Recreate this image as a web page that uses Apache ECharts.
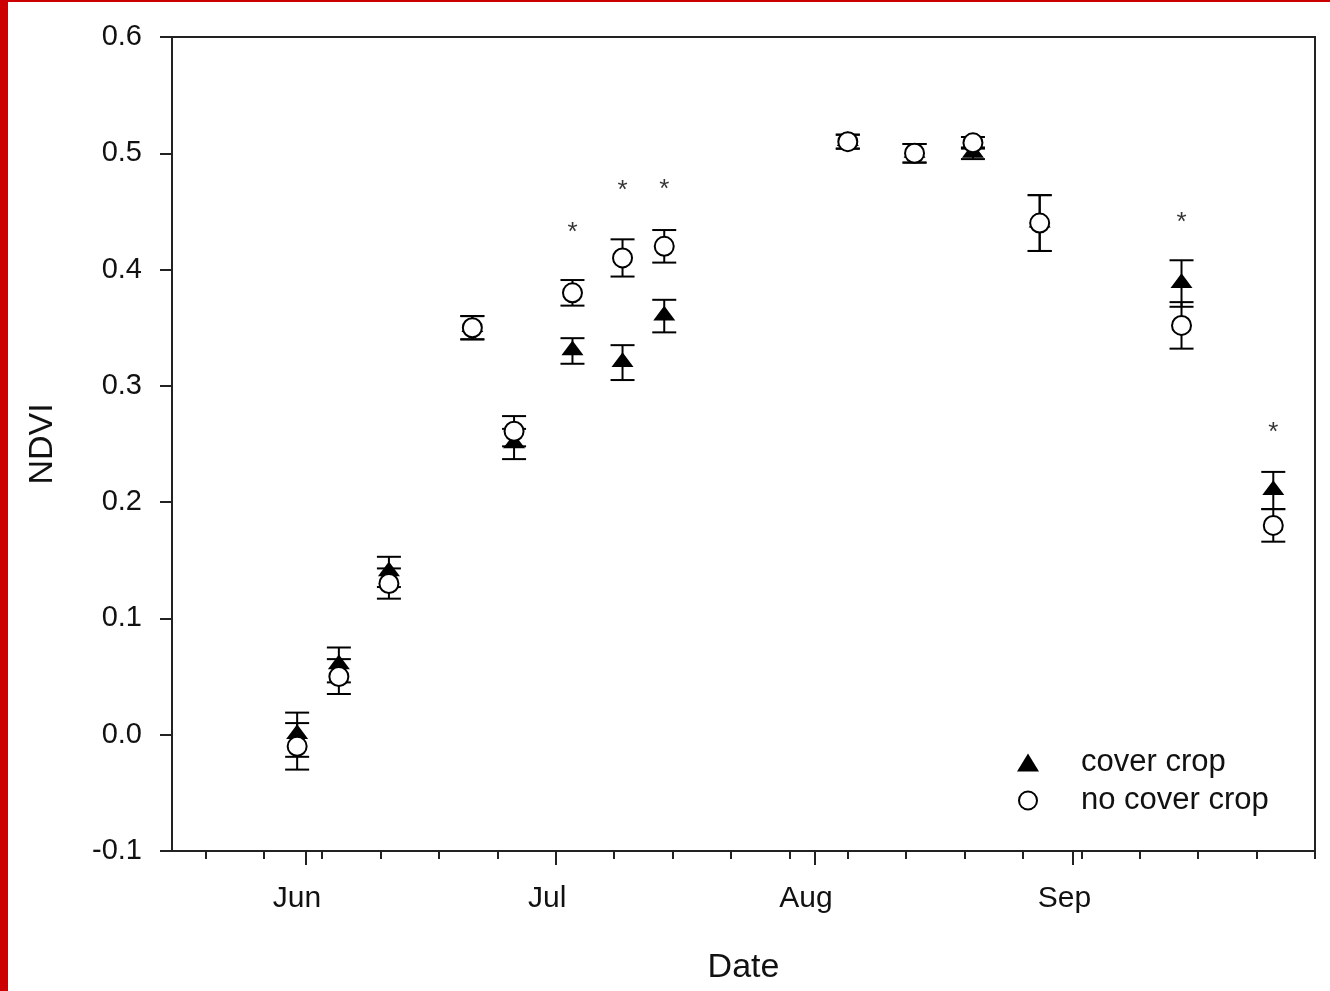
<!DOCTYPE html>
<html>
<head>
<meta charset="utf-8">
<script src="https://cdn.jsdelivr.net/npm/echarts@6/dist/echarts.min.js"></script>
<style>
html,body{margin:0;padding:0;background:#fff;}
#wrap{position:relative;width:1330px;height:991px;overflow:hidden;background:#fff;}
#chart{position:absolute;left:0;top:0;width:1330px;height:991px;}
.redL{position:absolute;left:0;top:0;width:8px;height:991px;background:#cc0000;}
.redT{position:absolute;left:0;top:0;width:1330px;height:2px;background:#cc0000;}
</style>
</head>
<body>
<div id="wrap"><div id="chart"></div><div class="redL"></div><div class="redT"></div></div>
<script>
// ---- data ----
const sampleDates   = ['05-31','06-05','06-11','06-21','06-26','07-03','07-09','07-14','08-05','08-13','08-20','08-28','09-14','09-25'];
const coverCrop     = [0.000, 0.060, 0.140, 0.350, 0.250, 0.330, 0.320, 0.360, 0.510, 0.500, 0.500, 0.440, 0.388, 0.210];
const coverCropSE   = [0.019, 0.015, 0.013, 0.010, 0.013, 0.011, 0.015, 0.014, 0.006, 0.008, 0.005, 0.024, 0.020, 0.016];
const noCoverCrop   = [-0.010, 0.050, 0.130, 0.350, 0.261, 0.380, 0.410, 0.420, 0.510, 0.500, 0.509, 0.440, 0.352, 0.180];
const noCoverCropSE = [0.020, 0.015, 0.013, 0.010, 0.013, 0.011, 0.016, 0.014, 0.006, 0.008, 0.005, 0.024, 0.020, 0.014];
const starDates     = ['07-03','07-09','07-14','09-14','09-25'];
const starY         = [0.438, 0.474, 0.475, 0.446, 0.266];
const monthStarts   = ['06-01','07-01','08-01','09-01'];
const monthLabels   = ['Jun','Jul','Aug','Sep'];
const axisStartDate = '05-16';
const axisEndDate   = '09-30';
const weekTickStart = '05-20';
const weekTickStep  = 7;
const yMin = -0.1, yMax = 0.6, yStep = 0.1;
const seriesNames = ['cover crop', 'no cover crop'];

// ---- day categories for the date axis ----
function mmdd(d){ return String(d.getUTCMonth()+1).padStart(2,'0') + '-' + String(d.getUTCDate()).padStart(2,'0'); }
function toDate(s){ return new Date(Date.UTC(2013, +s.slice(0,2)-1, +s.slice(3))); }
const days = [];
for (let t = toDate(axisStartDate).getTime(); t <= toDate(axisEndDate).getTime(); t += 86400000) days.push(mmdd(new Date(t)));
const weekIdx0 = days.indexOf(weekTickStart);

const FONT = "'Liberation Sans', Arial, Helvetica, sans-serif";
const INK = '#111';
const LINE = '#222';

function errRender(params, api){
  const x = api.value(0), v = api.value(1), e = api.value(2);
  const top = api.coord([x, v + e]);
  const bot = api.coord([x, v - e]);
  const hw = 12;
  const st = {stroke: '#000', lineWidth: 2};
  return {type: 'group', children: [
    {type: 'line', shape: {x1: top[0], y1: top[1], x2: bot[0], y2: bot[1]}, style: st},
    {type: 'line', shape: {x1: top[0]-hw, y1: top[1], x2: top[0]+hw, y2: top[1]}, style: st},
    {type: 'line', shape: {x1: bot[0]-hw, y1: bot[1], x2: bot[0]+hw, y2: bot[1]}, style: st}
  ]};
}

const chart = echarts.init(document.getElementById('chart'), null, {renderer: 'canvas'});
chart.setOption({
  animation: false,
  backgroundColor: '#fff',
  textStyle: {fontFamily: FONT},
  grid: {left: 172, right: 15, top: 37, bottom: 140, show: true, borderColor: LINE, borderWidth: 2, backgroundColor: 'transparent', containLabel: false, outerBoundsMode: 'none'},
  legend: {
    data: seriesNames,
    orient: 'vertical',
    left: 1012, top: 742,
    itemWidth: 22, itemHeight: 18, itemGap: 7,
    textStyle: {fontSize: 31, color: INK, fontFamily: FONT, padding: [0, 0, 0, 37]},
    selectedMode: false
  },
  xAxis: [
    {
      type: 'category', data: days, boundaryGap: false, position: 'bottom',
      axisLine: {show: true, onZero: false, lineStyle: {color: LINE, width: 2}},
      axisTick: {show: true, length: 8, lineStyle: {color: LINE, width: 2},
        interval: function(i){ return i >= weekIdx0 && (i - weekIdx0) % weekTickStep === 0; }},
      axisLabel: {show: false},
      splitLine: {show: false},
      name: 'Date', nameLocation: 'middle', nameGap: 100,
      nameTextStyle: {fontSize: 34, color: INK, fontFamily: FONT}
    },
    {
      type: 'category', data: days, boundaryGap: false, position: 'bottom', offset: 0,
      axisLine: {show: false, onZero: false},
      axisTick: {show: true, length: 14, lineStyle: {color: LINE, width: 2},
        interval: function(i, v){ return monthStarts.indexOf(v) >= 0; }},
      axisLabel: {show: true, margin: 33, fontSize: 30, color: INK, fontFamily: FONT, padding: [0, 17, 0, 0],
        interval: function(i, v){ return monthStarts.indexOf(v) >= 0; },
        formatter: function(v){ const k = monthStarts.indexOf(v); return k >= 0 ? monthLabels[k] : ''; }},
      splitLine: {show: false}
    }
  ],
  yAxis: {
    type: 'value', min: yMin, max: yMax, interval: yStep, position: 'left',
    axisLine: {show: true, onZero: false, lineStyle: {color: LINE, width: 2}},
    axisTick: {show: true, length: 12, lineStyle: {color: LINE, width: 2}},
    axisLabel: {margin: 30, fontSize: 29, color: INK, fontFamily: FONT, formatter: function(v){ return v.toFixed(1); }},
    splitLine: {show: false},
    name: 'NDVI', nameLocation: 'middle', nameGap: 112,
    nameTextStyle: {fontSize: 34, color: INK, fontFamily: FONT}
  },
  series: [
    {
      type: 'custom', name: 'cc-err', xAxisIndex: 0, z: 2, silent: true,
      renderItem: errRender, encode: {x: 0, y: 1},
      data: sampleDates.map((d, i) => [d, coverCrop[i], coverCropSE[i]])
    },
    {
      type: 'custom', name: 'ncc-err', xAxisIndex: 0, z: 2, silent: true,
      renderItem: errRender, encode: {x: 0, y: 1},
      data: sampleDates.map((d, i) => [d, noCoverCrop[i], noCoverCropSE[i]])
    },
    {
      type: 'scatter', name: seriesNames[0], xAxisIndex: 0, z: 3,
      symbol: 'path://M0,-12 L11,6 L-11,6 Z', symbolKeepAspect: true,
      symbolSize: [22, 18], symbolOffset: [0, -3],
      itemStyle: {color: '#000', opacity: 1},
      data: sampleDates.map((d, i) => [d, coverCrop[i]])
    },
    {
      type: 'scatter', name: seriesNames[1], xAxisIndex: 0, z: 4,
      symbol: 'circle', symbolSize: 19,
      itemStyle: {color: '#fff', borderColor: '#000', borderWidth: 2, opacity: 1},
      data: sampleDates.map((d, i) => [d, noCoverCrop[i]])
    },
    {
      type: 'scatter', name: 'significance', xAxisIndex: 0, z: 5, silent: true,
      symbolSize: 1, itemStyle: {color: 'rgba(0,0,0,0)'},
      label: {show: true, position: 'inside', formatter: '*', fontSize: 26, color: '#000', fontFamily: FONT, offset: [0, 7]},
      data: starDates.map((d, i) => [d, starY[i]])
    }
  ]
});
</script>
</body>
</html>
